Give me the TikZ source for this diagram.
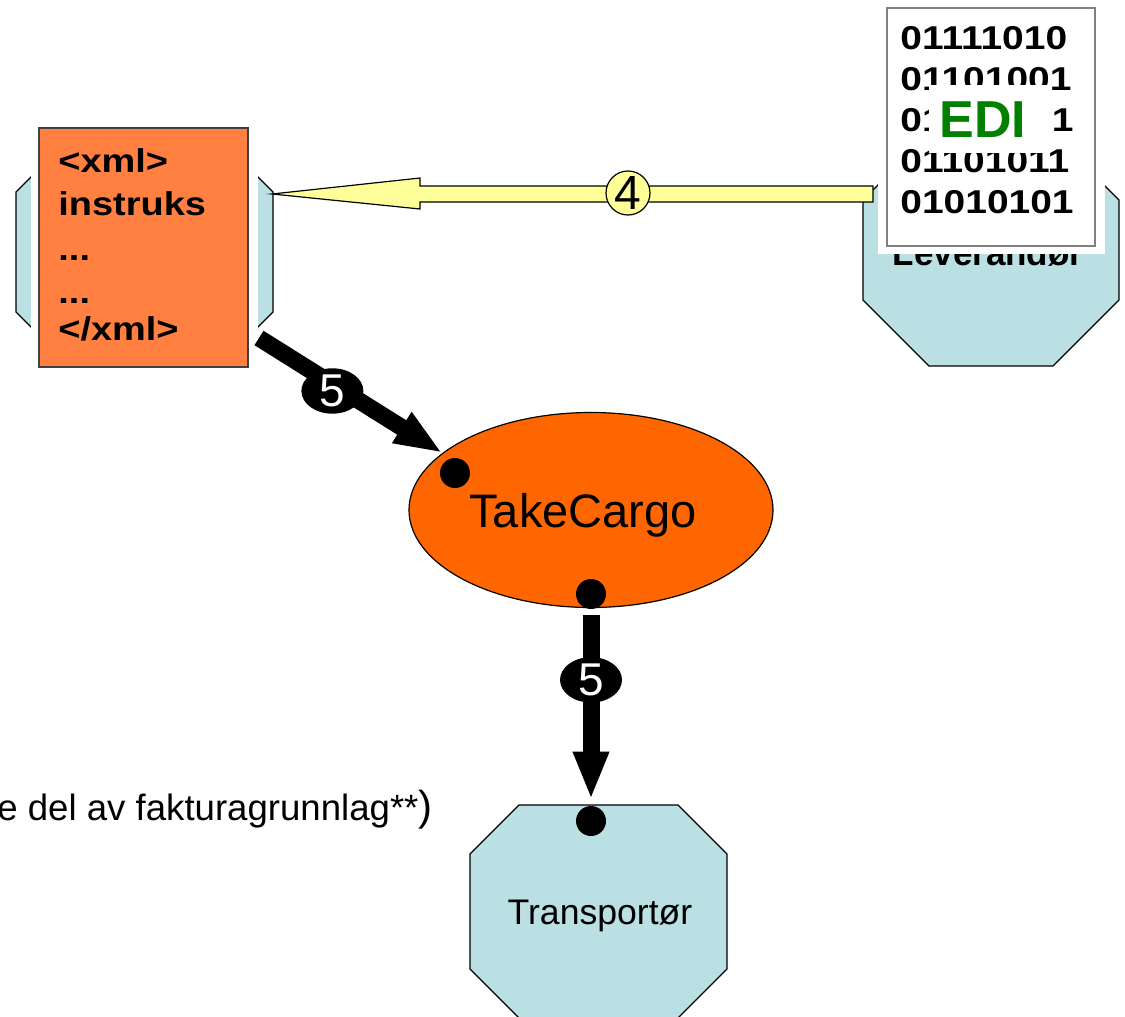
\documentclass[tikz,border=0pt]{standalone}
\usepackage{fontspec}
\setmainfont{Liberation Sans}
\newfontfamily\bitfont{Liberation Sans}[FakeStretch=1.18]
\newfontfamily\xmlfont{Liberation Sans}[FakeStretch=1.15]
\usetikzlibrary{shapes.geometric,arrows.meta,calc}

\definecolor{octblue}{RGB}{187,224,227}
\definecolor{xmlorange}{RGB}{255,128,64}
\definecolor{cargoorange}{RGB}{255,102,0}
\definecolor{arrowyellow}{RGB}{255,255,153}
\definecolor{edigreen}{RGB}{0,128,0}
\definecolor{framegray}{RGB}{64,64,64}

\newcommand\octbox[5]{%
  \draw[octa] (#1+#5,#2) -- (#3-#5,#2) -- (#3,#2+#5) -- (#3,#4-#5)
    -- (#3-#5,#4) -- (#1+#5,#4) -- (#1,#4-#5) -- (#1,#2+#5) -- cycle;}
\newcommand\xmldots{...}

\begin{document}
\begin{tikzpicture}[x=0.5pt, y=-0.5pt,
      octa/.style = {draw=black, line width=0.6pt, fill=octblue},
      dot/.style = {circle, fill=black, inner sep=0pt, minimum size=15pt},
      bigarrow/.style = {line width=8.5pt,
        -{Triangle[length=24pt, width=16.5pt]}},
      num5/.style = {ellipse, fill=black, text=white, inner sep=0pt,
        minimum width=31pt, minimum height=22.5pt,
        font=\fontsize{23pt}{23pt}\selectfont},
      num4/.style = {circle, draw=black, line width=0.6pt, fill=arrowyellow,
        inner sep=0pt, minimum size=22pt,
        font=\fontsize{24pt}{24pt}\selectfont},
      xmlline/.style = {anchor=base west, inner sep=0pt,
        font=\xmlfont\bfseries\fontsize{16.5pt}{20pt}\selectfont},
      bits/.style = {anchor=base west, inner sep=0pt,
        font=\bitfont\bfseries\fontsize{16.5pt}{18pt}\selectfont}]
    \useasboundingbox (0,0) rectangle (1125,1017);
    \clip (0,0) rectangle (1125,1017);

    % xml instruction picture on its octagon
    \octbox{16}{142}{273}{362}{50}
    \fill[white] (31,118) rectangle (258,377);
    \draw[draw=framegray, line width=0.6pt, fill=xmlorange] (39,128) rectangle (248,367);
    \foreach \txt/\ypos [count=\i] in {{<xml>}/172, instruks/215, \xmldots/260, \xmldots/303, {</xml>}/340}
      \node[xmlline] (xml\i) at (58,\ypos) {\txt};

    % Leverandør with the EDI picture
    \octbox{863}{134}{1119}{366}{66}
    \node[anchor=base, inner sep=0pt, font=\bfseries\fontsize{17.5pt}{20pt}\selectfont]
      (levlabel) at (988,265) {Leverandør};

    \coordinate (y4tail) at (873,194);
    \coordinate (y4tip) at (272,194);
    \filldraw[fill=arrowyellow, draw=black, line width=0.6pt, line join=miter]
      ($(y4tail)+(0,-8)$) -- ($(y4tip)+(148,-8)$) -- ($(y4tip)+(148,-16)$)
      -- (y4tip) -- ($(y4tip)+(148,15)$) -- ($(y4tip)+(148,8)$)
      -- ($(y4tail)+(0,8)$) -- cycle;
    \node[num4] (n4) at (628,193) {4};

    \fill[white] (878,0) rectangle (1105,254);
    \draw[draw=gray, line width=0.6pt] (887,8) rectangle (1095,246);
    \foreach \b [count=\i from 0] in {01111010, 01101001, 01\phantom{00000}1, 01101011, 01010101}
      \node[bits] (bit\i) at (900,49+41*\i) {\b};
    \fill[white] (929,85) rectangle (1050,153);
    \node[inner sep=0pt, text=edigreen, font=\bfseries\fontsize{26pt}{26pt}\selectfont]
      (edi) at (983,120) {EDI};

    % TakeCargo
    \node[ellipse, draw=black, line width=0.6pt, fill=cargoorange, inner sep=0pt,
      minimum width=182pt, minimum height=97.5pt] (tc) at (591,510) {};
    \node[anchor=base, inner sep=0pt, font=\fontsize{23.5pt}{26pt}\selectfont]
      (tclabel) at (583,527) {TakeCargo};
    \node[dot] (dTL) at (455,473) {};
    \node[dot] (dTB) at (591,594) {};

    \coordinate (a5s) at (259,338);
    \draw[bigarrow] (a5s) -- (tc.159) node[num5, pos=.4, yshift=-3.5pt] (n5a) {5};

    % Transportør
    \octbox{470}{805}{727}{1018}{49}
    \node[anchor=base, inner sep=0pt, font=\fontsize{17.8pt}{20pt}\selectfont]
      (trlabel) at (600,924) {Transportør};
    \node[dot] (dTr) at (591,821) {};

    \draw[bigarrow] ([yshift=-3pt]dTB.south) -- ([yshift=3pt]dTr.north)
      node[num5, pos=.35] (n5b) {5};

    \node[anchor=base west, inner sep=0pt, font=\fontsize{18.3pt}{20pt}\selectfont]
      (note) at (-3,820) {e del av fakturagrunnlag**{\fontsize{21pt}{21pt}\selectfont)}};
  \end{tikzpicture}
\end{document}
